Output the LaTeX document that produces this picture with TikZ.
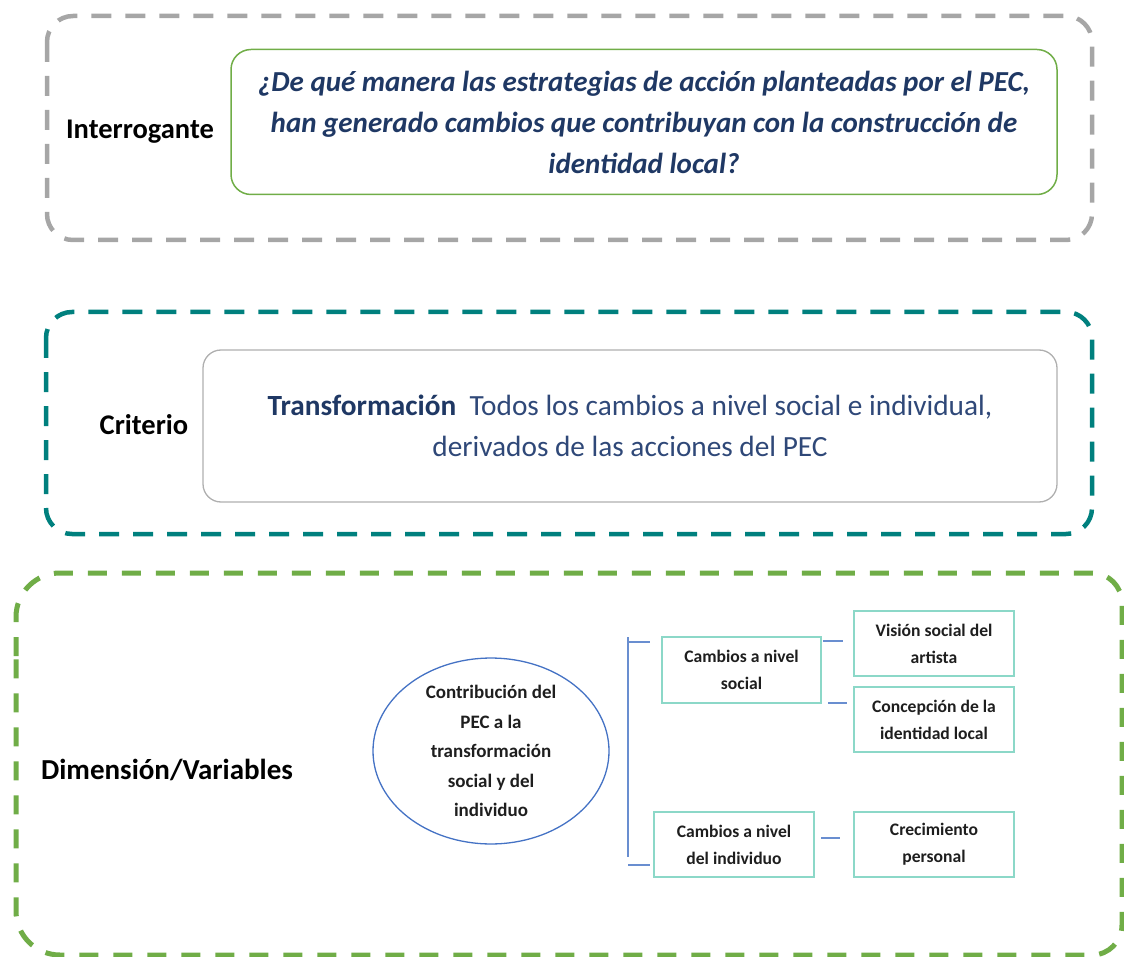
\documentclass[tikz,border=0pt]{standalone}
\usepackage{fontspec}
\setmainfont{Carlito}
\usetikzlibrary{shapes.geometric}
\definecolor{dgray}{RGB}{166,166,166}
\definecolor{dteal}{RGB}{0,128,126}
\definecolor{dgreen}{RGB}{112,173,71}
\definecolor{navy}{RGB}{31,56,100}
\definecolor{navyl}{RGB}{47,72,120}
\definecolor{boxteal}{RGB}{140,216,200}
\definecolor{lblue}{RGB}{68,114,196}
\definecolor{txt}{RGB}{30,30,30}
\tikzset{
  outer/.style={line width=4.5pt, dash pattern=on 20pt off 14pt, rounded corners=26pt},
  lbl/.style={font=\fontsize{28.5}{32}\selectfont\bfseries, text=black, inner sep=0pt},
  smallbox/.style={draw=boxteal, line width=1.6pt, minimum width=160pt, minimum height=65pt,
    inner sep=0pt, align=center, text=txt, font=\fontsize{17.6}{27}\selectfont\bfseries},
  tick/.style={draw=lblue!80, line width=1.6pt}
}
\begin{document}
\begin{tikzpicture}[x=1pt,y=-1pt]
\useasboundingbox (0,0) rectangle (1124,957);
% outer dashed frames
\draw[outer, draw=dgray] (47,16) rectangle (1092,240);
\draw[outer, draw=dteal] (46,312) rectangle (1092,534);
\draw[draw=dgreen, dash pattern=on 19pt off 15pt, line width=5pt]
  (16,700) [rounded corners=44pt] -- (16,573) [rounded corners=30pt] -- (1122,573) -- (1122,955)
  [rounded corners=44pt] -- (16,955) -- cycle;

% labels
\node[lbl] (lint) at (140,132) {Interrogante};
\node[lbl] (lcri) at (144,425) {Criterio};
\node[lbl, font=\fontsize{29}{32}\selectfont\bfseries] (ldim) at (167,770) {Dimensión/Variables};

% question box
\node[draw=dgreen, line width=1.5pt, rounded corners=20pt, minimum width=826pt, minimum height=145pt,
  inner sep=0pt, align=center, text=navy, font=\fontsize{29}{41}\selectfont\bfseries\itshape]
  (q) at (644,122) {¿De qué manera las estrategias de acción planteadas por el PEC,\\
  han generado cambios que contribuyan con la construcción de\\ identidad local?};

% criterio box
\node[draw=dgray!90, line width=1.3pt, rounded corners=18pt, minimum width=854pt, minimum height=152pt,
  inner sep=0pt, align=center, text=navyl, font=\fontsize{29.3}{41}\selectfont]
  (c) at (630,426) {{\color{navy}\bfseries Transformación}\ \ Todos los cambios a nivel social e individual,\\
  derivados de las acciones del PEC};

% ellipse
\node[draw=lblue, line width=1.3pt, ellipse, minimum width=236pt, minimum height=162pt, inner sep=0pt,
  align=center, text=txt, font=\fontsize{19}{29.5}\selectfont\bfseries]
  (e) at (491,751) {Contribución del\\ PEC a la\\ transformación\\ social y del\\ individuo};

% small boxes
\node[smallbox, minimum width=159pt, minimum height=66pt] (cs) at (741.5,670) {Cambios a nivel\\ social};
\node[smallbox] (vs) at (934,643.5) {Visión social del\\ artista};
\node[smallbox] (ci) at (934,719.5) {Concepción de la\\ identidad local};
\node[smallbox] (cind) at (734,844.5) {Cambios a nivel\\ del individuo};
\node[smallbox] (cp) at (934,844.5) {Crecimiento\\ personal};

% bracket
\coordinate (bt) at (628,642);
\coordinate (bb) at (628,865);
\coordinate (btv) at (628,637);
\coordinate (bbv) at (628,857);
\coordinate (btt) at (650,642);
\coordinate (bbt) at (650,865);
\draw[tick] (btv) -- (bbv);
\draw[tick] (bt) -- (btt);
\draw[tick] (bb) -- (bbt);

% short ticks between boxes
\coordinate (t1a) at (823,641); \coordinate (t1b) at (843,641);
\coordinate (t2a) at (828,703); \coordinate (t2b) at (847,703);
\coordinate (t3a) at (821,838); \coordinate (t3b) at (840,838);
\draw[tick] (t1a) -- (t1b);
\draw[tick] (t2a) -- (t2b);
\draw[tick] (t3a) -- (t3b);
\end{tikzpicture}
\end{document}
